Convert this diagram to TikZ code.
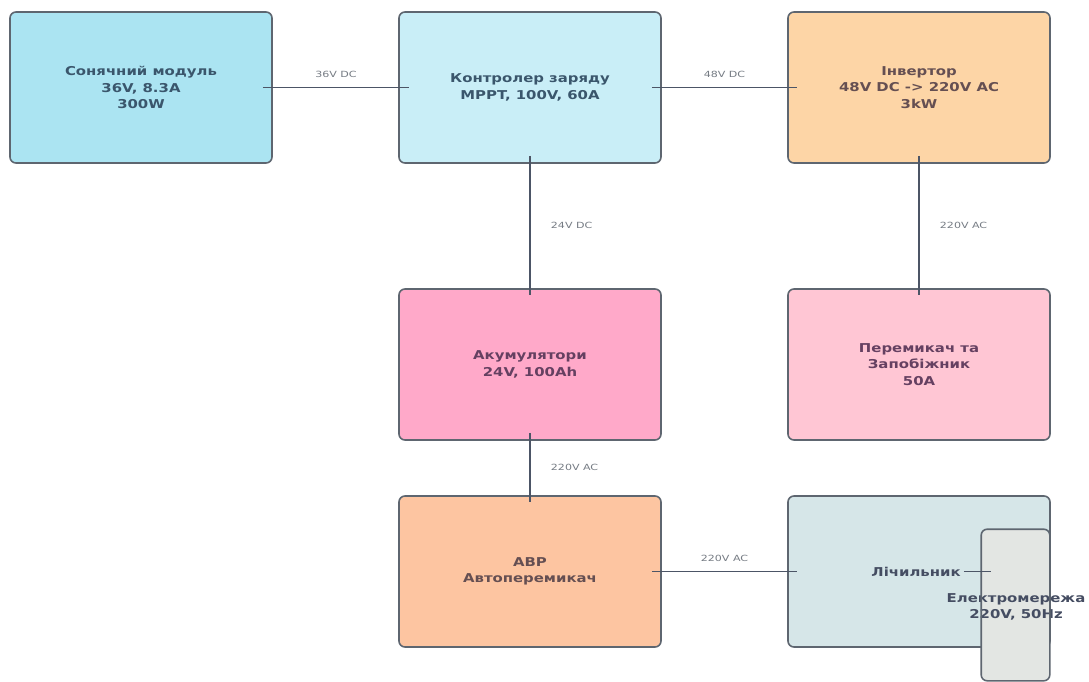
\documentclass[tikz,border=0pt]{standalone}
\usepackage{fontspec}
\setmainfont{DejaVu Sans}
\newfontfamily\boxfont[FakeStretch=1.22]{DejaVu Sans}
\newfontfamily\lblfont[FakeStretch=1.3]{DejaVu Sans}
\begin{document}
\begin{tikzpicture}[x=1pt,y=-1pt,
  box/.style={draw=boxline, line width=1.6pt, rounded corners=6pt, minimum width=262pt, minimum height=151pt, inner sep=0pt, align=center, font=\boxfont\bfseries\fontsize{12.2}{16.5}\selectfont},
  wire/.style={draw=wirecol, line width=1.9pt},
  lbl/.style={font=\lblfont\fontsize{8.5}{10}\selectfont, text=lblcol, inner sep=1pt}]
\definecolor{boxline}{HTML}{5E6670}
\definecolor{wirecol}{HTML}{4C5566}
\definecolor{lblcol}{HTML}{767C84}
\definecolor{txtblue}{HTML}{3A566C}
\definecolor{txtbrown}{HTML}{654F52}
\definecolor{txtpurple}{HTML}{654061}
\definecolor{txtgrey}{HTML}{454D62}
\definecolor{c1}{HTML}{ABE4F2}
\definecolor{c2}{HTML}{C9EEF7}
\definecolor{c3}{HTML}{FDD5A6}
\definecolor{c4}{HTML}{FFA9C9}
\definecolor{c5}{HTML}{FFC6D4}
\definecolor{c6}{HTML}{FDC5A1}
\definecolor{c7}{HTML}{D6E6E8}
\definecolor{c8}{HTML}{E3E6E3}
\useasboundingbox[fill=white] (0,0) rectangle (1089,682);
\node[box, fill=c1, text=txtblue] (solar) at (141,87.5) {Сонячний модуль\\36V, 8.3A\\300W};
\node[box, fill=c2, text=txtblue] (ctrl) at (530,87.5) {Контролер заряду\\MPPT, 100V, 60A};
\node[box, fill=c3, text=txtbrown] (inv) at (919,87.5) {Інвертор\\48V DC -> 220V AC\\3kW};
\node[box, fill=c4, text=txtpurple] (batt) at (530,364.5) {Акумулятори\\24V, 100Ah};
\node[box, fill=c5, text=txtpurple] (sw) at (919,364.5) {Перемикач та\\Запобіжник\\50A};
\node[box, fill=c6, text=txtbrown] (ats) at (530,571.5) {АВР\\Автоперемикач};
\node[box, fill=c7] (meter) at (919,571.5) {};
\node[font=\boxfont\bfseries\fontsize{12.2}{16.5}\selectfont, text=txtgrey, inner sep=0pt] (meterlbl) at (916,571.5) {Лічильник};
\node[box, draw=none, fill=c8, minimum width=67pt, minimum height=150pt] (grid) at (1015.5,605) {};
\node[font=\boxfont\bfseries\fontsize{12.2}{16.5}\selectfont, text=txtgrey, align=center] (gridlbl) at (1016,607) {Електромережа\\220V, 50Hz};
\draw[boxline, line width=1.6pt, rounded corners=6pt] (grid.south west) rectangle (grid.north east);
\draw[wire] ([xshift=-10pt]solar.east) -- node[lbl, above=8pt] (l1) {36V DC} ([xshift=11pt]ctrl.west);
\draw[wire] ([xshift=-10pt]ctrl.east) -- node[lbl, above=8pt] (l2) {48V DC} ([xshift=10pt]inv.west);
\draw[wire] ([yshift=8pt]ctrl.south) -- node[lbl, right=19pt] (l3) {24V DC} ([yshift=-7pt]batt.north);
\draw[wire] ([yshift=8pt]inv.south) -- node[lbl, right=19pt] (l4) {220V AC} ([yshift=-7pt]sw.north);
\draw[wire] ([yshift=8pt]batt.south) -- node[lbl, right=19pt] (l5) {220V AC} ([yshift=-7pt]ats.north);
\draw[wire] ([xshift=-10pt]ats.east) -- node[lbl, above=8pt] (l6) {220V AC} ([xshift=10pt]meter.west);
\draw[wire] ([xshift=3pt]meterlbl.east) -- ([xshift=10pt]grid.west |- meterlbl.east);
\end{tikzpicture}
\end{document}
